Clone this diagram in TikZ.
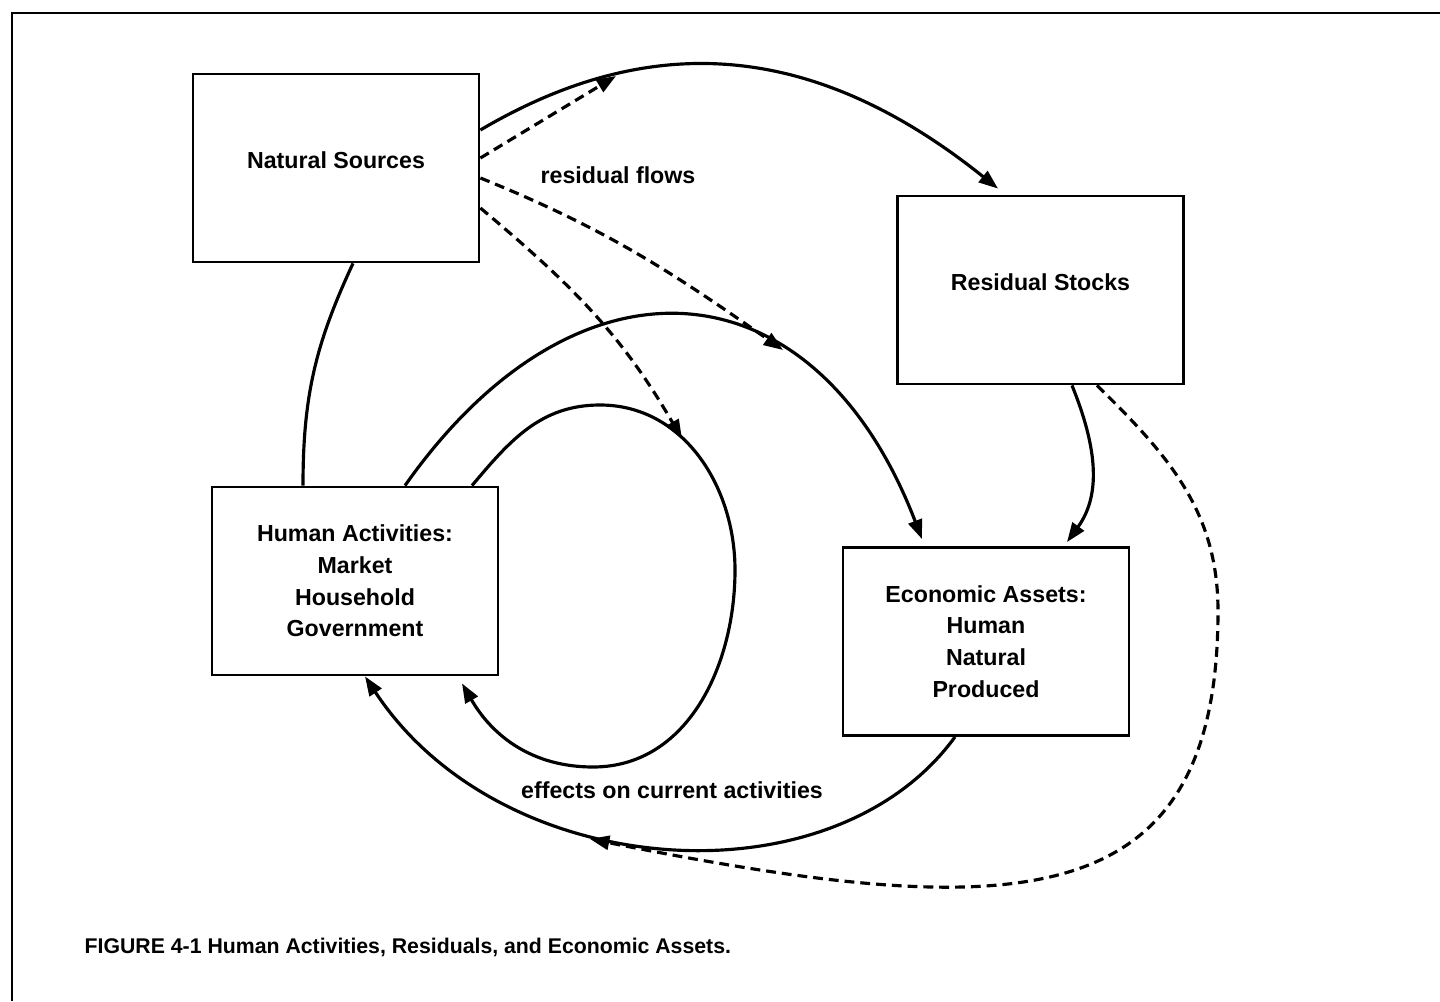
\documentclass[tikz,border=0pt]{standalone}
\usepackage{fontspec}
\setmainfont{Liberation Sans}
\usetikzlibrary{arrows.meta}

\begin{document}
\begin{tikzpicture}[every node/.style={font=\bfseries\fontsize{6.6}{9}\selectfont},
    box/.style={draw, line width=0.8pt, minimum width=2.86cm, minimum height=1.88cm, align=center, inner sep=0pt},
    onebox/.style={box, text depth=4.5pt},
    conn/.style={line width=0.9pt},
    flow/.style={conn, -{Triangle[length=5.5pt,width=4pt]}},
    resid/.style={flow, dash pattern=on 2.8pt off 1.7pt}]
  \useasboundingbox (0,0) rectangle (14.4,10.01);
  \draw[line width=0.85pt] (0.12,0) -- (0.12,9.88) -- (14.4,9.88);
  \node[onebox] (nat) at (3.36,8.33) {Natural Sources};
  \node[onebox] (res) at (10.405,7.11) {Residual Stocks};
  \node[box] (hum) at (3.55,4.20) {Human Activities:\\Market\\Household\\Government};
  \node[box] (eco) at (9.86,3.595) {Economic Assets:\\Human\\Natural\\Produced};
  \coordinate (c1) at (6.16,9.25); \coordinate (c2) at (7.83,6.51);
  \coordinate (c3) at (6.82,5.62); \coordinate (c4) at (5.90,1.62);
  \draw[flow] ([yshift=3.8mm]nat.east) .. controls (6.4,9.65) and (8.04,9.68) .. ([xshift=-4.25mm,yshift=0.6mm]res.north);
  \draw[resid] ([yshift=1mm]nat.east) -- (c1);
  \draw[resid] ([yshift=-1mm]nat.east) to[out=-22,in=145] (c2);
  \draw[resid] ([yshift=-4mm]nat.east) to[out=-40,in=120] (c3);
  \draw[conn] ([xshift=1.7mm]nat.south) to[out=-115,in=90] ([xshift=-5.2mm]hum.north);
  \draw[flow] ([xshift=5mm]hum.north) .. controls (5.77,7.60) and (8.15,7.41) .. ([xshift=-6.4mm,yshift=0.7mm]eco.north);
  \draw[flow] ([xshift=11.7mm]hum.north) to[out=50,in=180] (6.0,5.96) to[out=0,in=90] (7.35,4.31)
    to[out=-90,in=0] (5.93,2.34) to[out=180,in=-60] ([xshift=10.7mm,yshift=-0.7mm]hum.south);
  \draw[flow] ([xshift=3.15mm]res.south) to[out=-68,in=54] ([xshift=8.1mm,yshift=0.4mm]eco.north);
  \draw[flow] ([xshift=-3.1mm]eco.south) .. controls (8.32,0.95) and (5.01,1.18) .. ([xshift=1mm]hum.south);
  \draw[resid] ([xshift=5.65mm]res.south) .. controls (11.68,5.46) and (12.18,4.90) .. (12.18,3.90)
    .. controls (12.18,0.80) and (10.12,0.78) .. (c4);
  \node (rflow) at (6.18,8.26) {residual flows};
  \node (effects) at (6.72,2.11) {effects on current activities};
  \node[anchor=west, inner sep=0pt, font=\bfseries\fontsize{6.05}{8}\selectfont] (caption) at (0.84,0.54)
    {FIGURE 4-1 Human Activities, Residuals, and Economic Assets.};
\end{tikzpicture}
\end{document}
